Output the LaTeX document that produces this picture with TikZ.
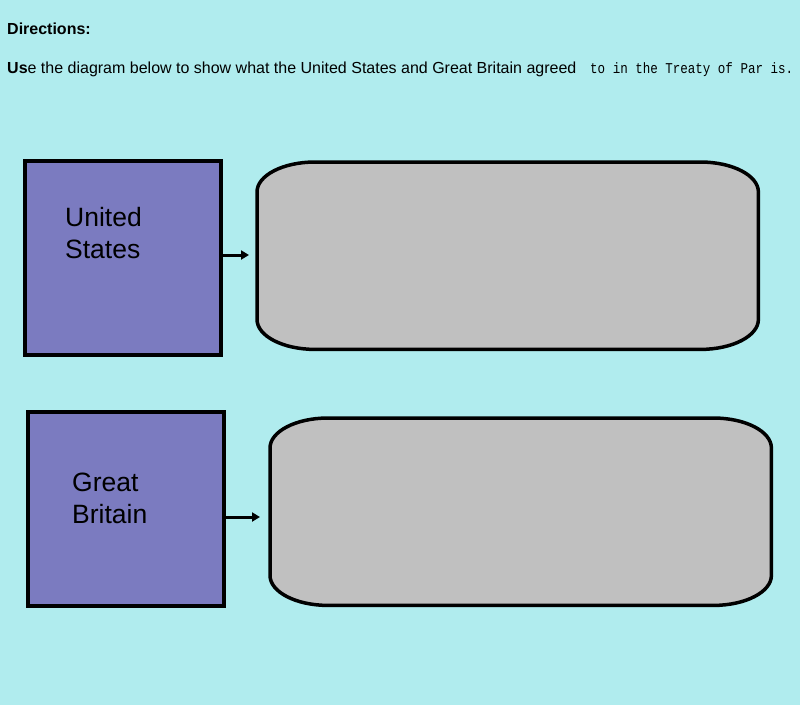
\documentclass[tikz,border=0pt]{standalone}
\usepackage{fontspec}
\usepackage{graphicx}
\setmainfont{Liberation Sans}
\newfontfamily\monof{Liberation Mono}
\usetikzlibrary{arrows.meta}
\definecolor{bgc}{HTML}{B0ECEE}
\definecolor{boxc}{HTML}{7B7BC0}
\definecolor{grayc}{HTML}{C0C0C0}
\tikzset{
  sqbox/.style={draw=black,line width=3.5pt,fill=boxc,minimum width=196pt,minimum height=194pt,inner sep=0pt,anchor=north west},
  areabox/.style={draw=none,minimum width=501pt,minimum height=187pt,inner sep=0pt,anchor=north west},
  roundline/.style={draw=black,line width=3.5pt,fill=grayc},
  lbl/.style={font=\fontsize{26.5}{32}\selectfont,align=left,anchor=base west,inner sep=0pt},
  conn/.style={line width=3pt,-{Triangle[length=8pt,width=9pt]}},
  txt/.style={anchor=base west,inner sep=0pt}
}
\begin{document}
\begin{tikzpicture}[x=1pt,y=-1pt]
\fill[bgc] (0,0) rectangle (800,705);
\useasboundingbox (0,0) rectangle (800,705);
\node[txt,font=\fontsize{16}{18}\selectfont\bfseries] (dir) at (7,34) {Directions:};
\node[txt,font=\fontsize{16}{18}\selectfont] (use) at (7,73) {\textbf{Us}e the diagram below to show what the United States and Great Britain agreed};
\node[txt,font=\fontsize{15}{18}\selectfont\monof] (mono) at (590,73) {\scalebox{0.835}[1]{to in the Treaty of Par is.}};
% left boxes
\node[sqbox] (us) at (23,159) {};
\node[sqbox] (gb) at (26,410) {};
\node[lbl] (ust) at (65,258) {United\\States};
\node[lbl] (gbt) at (72,523) {Great\\Britain};
% right rounded areas
\node[areabox] (r1) at (257,162) {};
\node[areabox] (r2) at (270,418) {};
\foreach \N in {r1,r2}{
  \path[roundline] ([xshift=58pt]\N.north west) -- ([xshift=-58pt]\N.north east)
    .. controls ([xshift=-26pt]\N.north east) and ([yshift=-13.4pt]\N.north east) .. ([yshift=-30pt]\N.north east)
    -- ([yshift=30pt]\N.south east)
    .. controls ([yshift=13.4pt]\N.south east) and ([xshift=-26pt]\N.south east) .. ([xshift=-58pt]\N.south east)
    -- ([xshift=58pt]\N.south west)
    .. controls ([xshift=26pt]\N.south west) and ([yshift=13.4pt]\N.south west) .. ([yshift=30pt]\N.south west)
    -- ([yshift=-30pt]\N.north west)
    .. controls ([yshift=-13.4pt]\N.north west) and ([xshift=26pt]\N.north west) .. ([xshift=58pt]\N.north west)
    -- cycle;
}
\coordinate (a1) at (249,255);
\coordinate (a2) at (260,517);
\draw[conn] (us.east |- a1) -- (a1);
\draw[conn] (gb.east |- a2) -- (a2);
\end{tikzpicture}
\end{document}
